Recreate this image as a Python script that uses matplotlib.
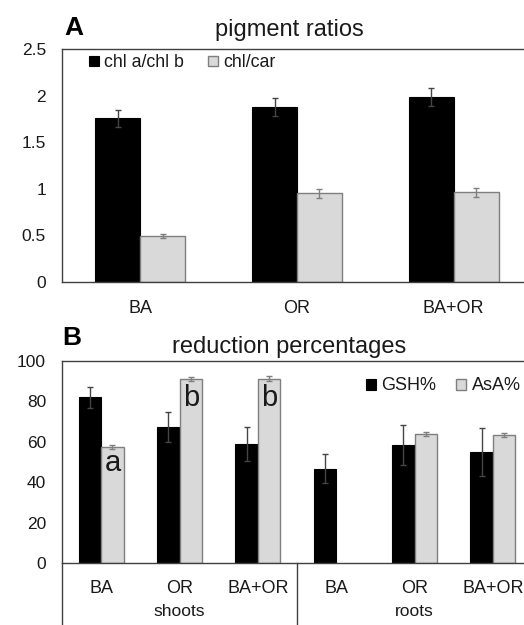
import numpy as np
import matplotlib
matplotlib.use("Agg")
import matplotlib.pyplot as plt
from matplotlib.transforms import blended_transform_factory

plt.rcParams['font.family'] = ['Liberation Sans', 'DejaVu Sans']

# data ----------------------------------------------------------------
pig_cats    = ["BA", "OR", "BA+OR"]
chl_ab      = [1.755, 1.88, 1.985]
chl_ab_err  = [0.093, 0.097, 0.099]
chl_car     = [0.49, 0.95, 0.96]
chl_car_err = [0.025, 0.05, 0.048]

red_cats    = ["BA", "OR", "BA+OR", "BA", "OR", "BA+OR"]
red_groups  = ["shoots", "roots"]
gsh         = [82, 67.4, 59, 46.8, 58.6, 55]
gsh_err     = [5.3, 7.2, 8.4, 7.0, 9.8, 11.8]
asa         = [57.5, 91, 91.3, 0, 63.9, 63.3]
asa_err     = [0.9, 1.1, 1.1, 0, 1.1, 1.0]
asa_letters = ["a", "b", "b", "", "", ""]
letter_y    = [49.6, 81.7, 81.7, 0, 0, 0]

# style ---------------------------------------------------------------
W, H = 524, 625
DARK = '#404040'
GRAY_FILL = '#d9d9d9'
GRAY_EDGE = '#7f7f7f'
TXT = '#1a1a1a'
bw = 0.287

fig = plt.figure(figsize=(W/100, H/100), dpi=100)

def px_axes(left, top, right, bottom):
    return fig.add_axes([left/W, 1-bottom/H, (right-left)/W, (bottom-top)/H])

def style(ax):
    for s in ['top', 'left', 'bottom']:
        ax.spines[s].set_color(DARK)
        ax.spines[s].set_linewidth(1.0)
    ax.spines['right'].set_visible(False)
    ax.tick_params(length=0, labelsize=12.5, colors=TXT, pad=11.5)

# PANEL A *************************************************************
axA = px_axes(62, 49, 532, 281.7)
xa = np.arange(len(pig_cats))
b1 = axA.bar(xa-bw/2, chl_ab, bw, color='black', edgecolor='black', lw=0.8,
             yerr=chl_ab_err, error_kw=dict(ecolor='#454545', elinewidth=1, capsize=2.5, capthick=1))
b2 = axA.bar(xa+bw/2, chl_car, bw, color=GRAY_FILL, edgecolor=GRAY_EDGE, lw=1,
             yerr=chl_car_err, error_kw=dict(ecolor=GRAY_EDGE, elinewidth=1, capsize=2.5, capthick=1))
axA.set_xlim(-0.5, 2.5)
axA.set_ylim(0, 2.5)
axA.set_yticks([0, 0.5, 1, 1.5, 2, 2.5])
axA.set_yticklabels(['0', '0.5', '1', '1.5', '2', '2.5'])
axA.set_xticks(xa)
axA.set_xticklabels(pig_cats)
style(axA)
axA.tick_params(axis='x', pad=13, labelsize=13)

axA.legend([b1, b2], ["chl a/chl b", "chl/car"], ncol=2, frameon=False,
           loc='center left', bbox_to_anchor=(89/W, 1-62.7/H), bbox_transform=fig.transFigure,
           borderpad=0, borderaxespad=0, handlelength=0.55, handleheight=0.55,
           handletextpad=0.3, columnspacing=1.35, fontsize=12.8, labelcolor=TXT)

fig.text(289/W, 1-30/H, "pigment ratios", ha='center', va='center', fontsize=17, color=TXT)
fig.text(64/W, 1-28/H, "A", ha='left', va='center', fontsize=19, fontweight='bold', color='black')

# PANEL B *************************************************************
axB = px_axes(62, 361, 532, 563.3)
xb = np.arange(len(red_cats))
g1 = axB.bar(xb-bw/2, gsh, bw, color='black', edgecolor='black', lw=0.8,
             yerr=gsh_err, error_kw=dict(ecolor='#454545', elinewidth=1, capsize=2.5, capthick=1))
asa_plot = [v if v > 0 else np.nan for v in asa]
asa_e = [e if v > 0 else np.nan for v, e in zip(asa, asa_err)]
g2 = axB.bar(xb+bw/2, asa_plot, bw, color=GRAY_FILL, edgecolor=GRAY_EDGE, lw=1,
             yerr=asa_e, error_kw=dict(ecolor=GRAY_EDGE, elinewidth=1, capsize=2.5, capthick=1))
for x, lab, y in zip(xb, asa_letters, letter_y):
    if lab:
        axB.text(x+bw/2, y, lab, ha='center', va='center', fontsize=21, color=TXT)

axB.set_xlim(-0.5, 5.5)
axB.set_ylim(0, 100)
axB.set_yticks([0, 20, 40, 60, 80, 100])
axB.set_xticks(xb)
axB.set_xticklabels(red_cats)
style(axB)
axB.tick_params(axis='x', pad=12, labelsize=13)

# group labels and separators below the axis
tr = blended_transform_factory(axB.transData, axB.transAxes)
for i, g in enumerate(red_groups):
    axB.text(1 + 3*i, -0.24, g, transform=tr, ha='center', va='center', fontsize=12.5, color=TXT)
for xs in [-0.5, 2.5]:
    axB.plot([xs, xs], [0, -0.35], transform=tr, color=DARK, lw=1, clip_on=False)

axB.legend([g1, g2], ["GSH%", "AsA%"], ncol=2, frameon=False,
           loc='center left', bbox_to_anchor=(366/W, 1-386/H), bbox_transform=fig.transFigure,
           borderpad=0, borderaxespad=0, handlelength=0.55, handleheight=0.55,
           handletextpad=0.3, columnspacing=1.1, fontsize=13, labelcolor=TXT)

fig.text(289/W, 1-346.7/H, "reduction percentages", ha='center', va='center', fontsize=17, color=TXT)
fig.text(62/W, 1-337.7/H, "B", ha='left', va='center', fontsize=19, fontweight='bold', color='black')

fig.savefig("out.png", dpi=100)
